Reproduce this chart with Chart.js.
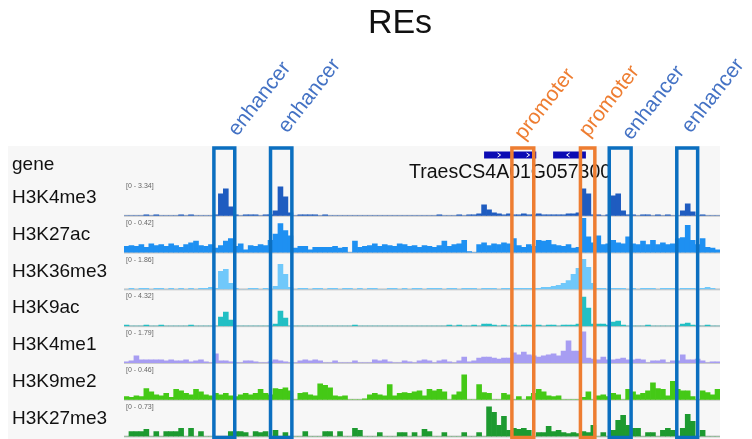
<!DOCTYPE html>
<html>
<head>
<meta charset="utf-8">
<title>REs</title>
<script src="https://cdn.jsdelivr.net/npm/chart.js@4.4.1/dist/chart.umd.min.js"></script>
<style>
  html, body { margin: 0; padding: 0; background: #ffffff; }
  canvas { display: block; }
</style>
</head>
<body>
<canvas id="browser" width="752" height="439"></canvas>
<script>
// ---- data -------------------------------------------------------------
// 120 equal-width genomic bins across the viewed window
const bins = Array.from({ length: 120 }, (_, i) => i);

const trackNames  = ['H3K4me3', 'H3K27ac', 'H3K36me3', 'H3K9ac', 'H3K4me1', 'H3K9me2', 'H3K27me3'];
const trackRanges = [3.34, 0.42, 1.86, 4.32, 1.79, 0.46, 0.73];

const h3k4me3 = [
  0,0,0,0,0.09,0,0.09,0,0,0,
  0,0.09,0,0.09,0,0,0,0,0.09,2.0,
  2.45,0.82,0.09,0,0.09,0.09,0.09,0,0.09,0.09,
  0.45,2.63,1.73,0.27,0,0.09,0.09,0.09,0.09,0,
  0.09,0,0,0,0,0,0,0,0,0,
  0,0,0,0,0,0,0,0,0,0,
  0,0,0,0.09,0,0,0,0.09,0,0.09,
  0.09,0.18,1.0,0.54,0.27,0.18,0.09,0.18,0.09,0.09,
  0.18,0.09,0.09,0.18,0.09,0.09,0.09,0.09,0.09,0.18,
  0.18,0.27,2.45,2.0,0.09,0.09,0,0.09,1.82,2.0,
  0.45,0.09,0.09,0,0.09,0.09,0,0.09,0,0.09,
  0,0,0.45,1.09,0.36,0,0.09,0,0,0
];
const h3k27ac = [
  0.07,0.08,0.07,0.09,0.06,0.1,0.08,0.09,0.07,0.1,
  0.08,0.06,0.09,0.11,0.13,0.08,0.07,0.09,0.05,0.08,
  0.13,0.16,0.07,0.1,0.03,0.08,0.07,0.09,0.08,0.14,
  0.21,0.33,0.25,0.19,0.05,0.07,0.07,0.03,0.06,0.06,
  0.06,0.06,0.07,0.05,0.06,0,0.13,0.06,0.07,0.08,
  0.1,0.07,0.09,0.08,0.07,0.1,0.09,0.07,0.08,0.06,
  0.08,0.07,0.06,0.08,0.13,0.07,0.09,0.1,0.14,0.01,
  0,0.09,0.11,0.08,0.1,0.09,0.11,0.1,0.16,0.08,
  0.06,0.09,0.07,0.14,0.13,0.14,0.09,0.08,0.07,0.09,
  0.05,0.06,0.39,0.18,0.11,0.19,0.09,0.1,0.14,0.11,
  0.1,0.18,0.1,0.09,0.13,0.09,0.14,0.09,0.11,0.09,
  0.1,0.16,0.17,0.31,0.14,0.09,0.16,0.06,0.05,0.03
];
const h3k36me3 = [
  0,0.05,0,0.05,0.05,0,0.05,0.05,0,0.05,
  0,0.05,0,0.05,0,0.05,0.05,0.1,0.05,0.91,
  1.01,0.3,0.05,0,0,0.05,0.05,0,0.05,0,
  0.15,1.26,0.76,0.1,0,0.05,0.05,0,0.05,0.05,
  0,0.05,0.05,0,0.05,0.05,0,0.05,0,0.05,
  0.05,0,0,0.05,0.05,0,0.05,0,0.05,0.05,
  0,0.05,0.05,0.05,0,0.05,0.05,0,0.05,0.05,
  0.05,0,0.05,0.05,0.05,0,0.05,0.05,0.05,0.05,
  0.05,0.05,0.05,0.05,0.1,0.1,0.15,0.2,0.3,0.45,
  0.76,1.06,1.52,1.11,0.3,0.05,0.05,0,0.05,0.05,
  0.05,0,0.05,0,0.05,0.05,0.05,0,0.05,0.05,
  0.05,0,0.05,0.05,0.05,0,0.05,0.1,0.05,0
];
const h3k9ac = [
  0.12,0,0,0,0.12,0,0,0.12,0,0,
  0,0,0,0.12,0,0,0,0,0,1.06,
  1.64,0.7,0,0,0,0,0,0,0,0,
  0.23,1.76,0.94,0,0,0,0,0,0,0,
  0,0,0,0,0,0,0.12,0,0,0,
  0,0,0,0,0,0,0,0,0,0,
  0,0,0,0,0,0.12,0,0.12,0,0,
  0.12,0,0.23,0.23,0.12,0,0.12,0,0.12,0,
  0.12,0.12,0,0.12,0,0.12,0.12,0,0.12,0.12,
  0.12,0.23,3.4,2.11,0.23,0.23,0.23,0.12,0.47,0.59,
  0.12,0,0,0,0,0.12,0,0,0,0,
  0,0,0.23,0.35,0.12,0,0,0.12,0,0
];
const h3k4me1 = [
  0.05,0.1,0.34,0.15,0.15,0.15,0.15,0.15,0.1,0.15,
  0.1,0.1,0.15,0.05,0.1,0.15,0.05,0,0.44,0.1,
  0.1,0.05,0,0,0.1,0.1,0.05,0,0,0.05,
  0.15,0.1,0.05,0,0,0.1,0.15,0.1,0.15,0.1,
  0,0,0.1,0,0,0,0.1,0,0,0,
  0.15,0.1,0.15,0.05,0,0,0.1,0.05,0,0.1,
  0.15,0.1,0,0.1,0.15,0.05,0,0.1,0.29,0.05,
  0.1,0.24,0.29,0.29,0.24,0.19,0.24,0.24,0.49,0.39,
  0.53,0.39,0.34,0.29,0.34,0.39,0.44,0.34,0.58,1.07,
  0.58,0.58,1.51,0.24,0.19,0.15,0.29,0.15,0.15,0.19,
  0.24,0.15,0.15,0.19,0.15,0,0.1,0.1,0.15,0,
  0.1,0.1,0.39,0.15,0.15,0.19,0.1,0,0.05,0.05
];
const h3k9me2 = [
  0.04,0.03,0.05,0.04,0.14,0.1,0.06,0.05,0.08,0.03,
  0.13,0.11,0.08,0.06,0.13,0.1,0.06,0.05,0.08,0.06,
  0.08,0.05,0.04,0.06,0.08,0.06,0.08,0.13,0.08,0.06,
  0.14,0.13,0.15,0.11,0,0.08,0.09,0.06,0.05,0.2,
  0.18,0.15,0.05,0.04,0.05,0,0,0,0.01,0.06,
  0.08,0.06,0.05,0.19,0.05,0.08,0.09,0.08,0.1,0.11,
  0.05,0.13,0.11,0.13,0.1,0,0.06,0.1,0.31,0,
  0,0.19,0.09,0.08,0,0,0.08,0.06,0,0.04,
  0,0.04,0.08,0.13,0.1,0.05,0.04,0.05,0,0,
  0,0,0.03,0.1,0,0.05,0.06,0.04,0.08,0.06,
  0,0.13,0.1,0.06,0.08,0.11,0.21,0.14,0.13,0.05,
  0.23,0.13,0.11,0.11,0.04,0,0.11,0.09,0.06,0.13
];
const h3k27me3 = [
  0,0.1,0.1,0.1,0.14,0,0.1,0,0.1,0.1,
  0.1,0.16,0,0.16,0,0.1,0,0,0,0,
  0,0.1,0.1,0.1,0.08,0,0.1,0.08,0.1,0,
  0.12,0,0.08,0,0,0,0.1,0,0,0,
  0.1,0.1,0,0.1,0,0,0.16,0.12,0,0,
  0,0.08,0,0,0,0.08,0.08,0,0.08,0,
  0.14,0.1,0,0,0.08,0,0,0,0.08,0,
  0,0.08,0,0.59,0.48,0.22,0.4,0.12,0.16,0.14,
  0.16,0.12,0,0.08,0.08,0.2,0.1,0.12,0.08,0.06,
  0.08,0.06,0.1,0.08,0.22,0,0.08,0,0.12,0.32,
  0.42,0.22,0.16,0.16,0,0.08,0.08,0,0.12,0.16,
  0.12,0,0.16,0.44,0.3,0,0.12,0,0,0
];
const trackData = [h3k4me3, h3k27ac, h3k36me3, h3k9ac, h3k4me1, h3k9me2, h3k27me3];

// gene model (bin coordinates) and its name
const geneName   = 'TraesCS4A01G057300';
const blockStart = [72.5, 86.4];
const blockEnd   = [83.0, 93.0];
const blockArrow = ['>', '<'];

// regulatory elements (bin coordinates)
const regionType  = ['enhancer', 'enhancer', 'promoter', 'promoter', 'enhancer', 'enhancer'];
const regionStart = [18.1, 29.5, 78.1, 91.9, 97.7, 111.3];
const regionEnd   = [22.3, 33.8, 82.5, 94.8, 102.1, 115.5];

// ---- styling ----------------------------------------------------------
const trackColors = ['#1f5cc0', '#1e90f2', '#70c8fa', '#22bfc4', '#a79df2', '#44c916', '#1d9a30'];
const regionColor = { enhancer: '#0b6fc0', promoter: '#ee7d31' };
const regionTextColor = { enhancer: '#4472c4', promoter: '#ee7d31' };
// where each slanted label starts: horizontal shift from the box centre, baseline y
const labelPlace = [[13, 137], [6, 134], [1, 141], [0.5, 138], [11, 141], [3.5, 134]];
const FONT = '"Liberation Sans", Arial, Helvetica, sans-serif';

const yScales = {};
trackNames.forEach((name, k) => {
  yScales['y' + k] = {
    type: 'linear',
    stack: 'tracks',
    stackWeight: 1,
    weight: trackNames.length - k,
    position: 'left',
    min: 0,
    max: trackRanges[k],
    display: true,
    ticks: { display: false },
    grid: { display: false, drawTicks: false },
    border: { display: false }
  };
});

const datasets = trackNames.map((name, k) => ({
  label: name,
  data: trackData[k],
  yAxisID: 'y' + k,
  backgroundColor: trackColors[k],
  borderWidth: 0,
  barPercentage: 1,
  categoryPercentage: 1,
  grouped: false
}));

// ---- genome-browser decorations --------------------------------------
const browserDecor = {
  id: 'browserDecor',
  beforeDraw(chart) {
    const { ctx, chartArea: a } = chart;
    ctx.save();
    ctx.fillStyle = '#ffffff';
    ctx.fillRect(0, 0, chart.width, chart.height);
    ctx.fillStyle = '#f7f7f7';
    ctx.fillRect(8, 146, a.right - 8, chart.height - 146);
    ctx.restore();
  },
  beforeDatasetsDraw(chart) {
    const { ctx, chartArea: a } = chart;
    ctx.save();
    ctx.fillStyle = '#c9c9c9';
    trackNames.forEach((n, k) => {
      const y = chart.scales['y' + k].getPixelForValue(0);
      ctx.fillRect(a.left, y - 1, a.right - a.left, 2);
    });
    ctx.restore();
  },
  afterDatasetsDraw(chart) {
    const { ctx, chartArea: a } = chart;
    const xs = chart.scales.x;
    const edge = b => xs.getPixelForValue(b - 0.5);
    ctx.save();

    // data-range captions and track names
    trackNames.forEach((name, k) => {
      const s = chart.scales['y' + k];
      ctx.fillStyle = '#666666';
      ctx.font = '7px ' + FONT;
      ctx.textAlign = 'left';
      ctx.textBaseline = 'alphabetic';
      ctx.fillText('[0 - ' + trackRanges[k] + ']', a.left + 2, s.top + 9);
      ctx.fillStyle = '#111111';
      ctx.font = '19px ' + FONT;
      ctx.fillText(name, 12, s.top + 24);
    });
    ctx.fillStyle = '#111111';
    ctx.font = '19px ' + FONT;
    ctx.fillText('gene', 12, 170);

    // gene blocks with strand chevrons
    blockStart.forEach((b, i) => {
      const x0 = edge(b), x1 = edge(blockEnd[i]);
      ctx.fillStyle = '#0b0bb4';
      ctx.fillRect(x0, 151.5, x1 - x0, 7);
      ctx.strokeStyle = '#ffffff';
      ctx.lineWidth = 1;
      const dir = blockArrow[i] === '>' ? 1 : -1;
      for (let cx = x0 + 15; cx < x1 - 4; cx += 29) {
        ctx.beginPath();
        ctx.moveTo(cx - 1.5 * dir, 153);
        ctx.lineTo(cx + 1.5 * dir, 155);
        ctx.lineTo(cx - 1.5 * dir, 157);
        ctx.stroke();
      }
    });
    ctx.fillStyle = '#111111';
    ctx.font = '19.5px ' + FONT;
    ctx.textAlign = 'center';
    ctx.fillText(geneName, edge(blockStart[0]) + 26, 177.5);

    // regulatory element boxes and their slanted labels
    regionType.forEach((type, i) => {
      const x0 = edge(regionStart[i]), x1 = edge(regionEnd[i]);
      ctx.strokeStyle = regionColor[type];
      ctx.lineWidth = 3.5;
      ctx.strokeRect(x0, 148, x1 - x0, 289.5);

      const [dx, by] = labelPlace[i];
      ctx.save();
      ctx.translate((x0 + x1) / 2 + dx, by);
      ctx.rotate(-52 * Math.PI / 180);
      ctx.fillStyle = regionTextColor[type];
      ctx.font = '21px ' + FONT;
      ctx.textAlign = 'left';
      ctx.textBaseline = 'alphabetic';
      ctx.fillText(type, 0, 0);
      ctx.restore();
    });

    // title
    ctx.fillStyle = '#111111';
    ctx.font = '34px ' + FONT;
    ctx.textAlign = 'center';
    ctx.fillText('REs', 400, 33);
    ctx.restore();
  }
};

new Chart(document.getElementById('browser'), {
  type: 'bar',
  data: { labels: bins, datasets },
  options: {
    responsive: false,
    animation: false,
    events: [],
    devicePixelRatio: 1,
    layout: { padding: { left: 124, right: 32, top: 179, bottom: 2.5 } },
    scales: Object.assign({
      x: { type: 'category', display: false, offset: true, grid: { display: false } }
    }, yScales),
    plugins: { legend: { display: false }, tooltip: { enabled: false }, title: { display: false } }
  },
  plugins: [browserDecor]
});
</script>
</body>
</html>
